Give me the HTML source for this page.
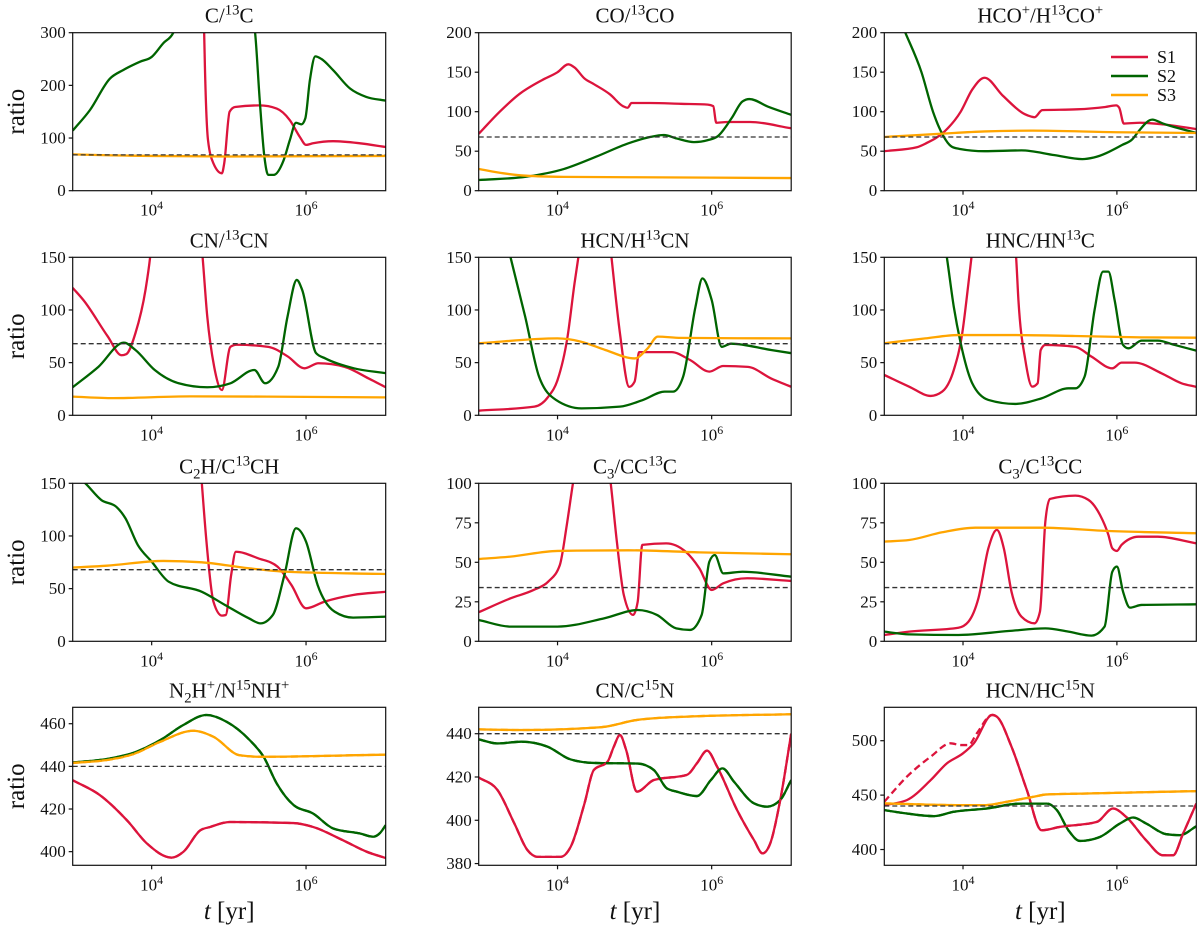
<!DOCTYPE html>
<html><head><meta charset="utf-8"><style>
html,body{margin:0;padding:0;background:#fff;}
svg text{font-family:"Liberation Serif",serif;fill:#111;}
</style></head><body>
<svg id="fig" width="1200" height="932" viewBox="0 0 1200 932" xmlns="http://www.w3.org/2000/svg">
<rect width="1200" height="932" fill="#fff"/>
</svg>
<script>
// ---- data: [log10(t/yr), ratio] ----
const c13_S1=[[2.977,1500],[4.5,900],[4.64,450],[4.68,300],[4.69,235],[4.73,96],[4.8,52],[4.91,33],[4.94,52],[5.01,150],[5.08,159],[5.4,162],[5.62,156],[5.79,134],[5.92,102],[6.0,87],[6.09,90],[6.35,94],[6.7,90],[7.032,83]];
const c13_S2=[[2.977,114],[3.2,153],[3.46,213],[3.63,229],[3.85,245],[4.0,254],[4.15,280],[4.28,300],[4.5,420],[4.9,450],[5.2,400],[5.34,300],[5.4,172],[5.46,65],[5.51,30],[5.58,30],[5.71,58],[5.79,96],[5.87,129],[5.94,126],[5.99,137],[6.05,210],[6.12,255],[6.2,250],[6.35,229],[6.57,194],[6.78,178],[7.032,171]];
const c13_S3=[[2.977,69],[3.5,67],[4.0,66],[5.0,65],[6.0,65.5],[7.032,66]];
const co_S1=[[2.977,72],[3.25,100],[3.5,122],[3.8,140],[4.0,150],[4.14,160],[4.22,156],[4.35,142],[4.47,135],[4.68,122],[4.85,107],[4.91,105],[4.96,111],[5.2,111],[5.6,110],[5.95,109],[6.02,107],[6.06,86],[6.2,87],[6.5,87],[7.032,79]];
const co_S2=[[2.977,13.5],[3.59,17.7],[4.08,27.4],[4.5,43],[4.92,60],[5.2,68],[5.38,70.5],[5.55,66],[5.77,61.5],[5.95,64],[6.08,69],[6.26,92],[6.4,113],[6.49,116],[6.74,106],[7.032,96]];
const co_S3=[[2.977,27.5],[3.3,22],[3.59,19],[4.08,17.5],[5,17],[6,16.5],[7.032,16]];
const hco_S1=[[2.977,50],[3.4,55],[3.52,60],[3.76,75],[3.97,100],[4.12,128],[4.28,143],[4.52,120],[4.8,97],[4.88,94],[4.93,93],[5.03,102],[5.48,103],[5.85,106],[5.99,108],[6.03,105],[6.09,85],[6.3,86],[6.6,84],[7.032,78]];
const hco_S2=[[2.977,260],[3.25,200],[3.46,150],[3.61,100],[3.74,70],[3.85,56],[3.95,53],[4.28,50],[4.76,51],[5.19,45],[5.55,40],[5.7,42],[6.07,58],[6.2,65],[6.28,75],[6.46,90],[6.6,85],[7.032,73]];
const hco_S3=[[2.977,68],[3.7,72],[4.28,75],[4.9,76],[6.0,74],[7.032,73]];
const cn_S1=[[2.977,121],[3.12,109],[3.43,75],[3.61,57],[3.67,58],[3.79,78],[3.92,119],[3.98,150],[4.1,260],[4.3,350],[4.5,260],[4.66,150],[4.72,94],[4.81,46],[4.91,24],[5.02,65],[5.1,67],[5.51,65],[5.76,56],[5.98,44.6],[6.16,49.4],[6.5,46],[6.81,35],[7.032,26.6]];
const cn_S2=[[2.977,26.6],[3.31,46],[3.64,69],[3.79,62],[4.04,43],[4.35,30.4],[4.72,26.6],[5.02,30.4],[5.33,43],[5.47,30.4],[5.64,46],[5.76,93.7],[5.88,128.5],[5.95,119],[6.13,59],[6.25,54],[6.62,44.6],[7.032,40]];
const cn_S3=[[2.977,17.7],[3.5,16.3],[4.5,18],[5.5,17.7],[7.032,17]];
const hcn_S1=[[2.977,4.4],[3.7,8.2],[3.88,17.7],[4.0,33.5],[4.13,74.7],[4.22,125],[4.27,150],[4.45,250],[4.6,220],[4.7,150],[4.81,77.8],[4.93,27],[5.0,32],[5.06,60],[5.48,60],[5.72,52.5],[5.97,41.5],[6.15,46.8],[6.47,46],[6.77,35],[7.032,27]];
const hcn_S2=[[2.977,260],[3.39,150],[3.58,93.7],[3.76,36.7],[3.98,14.6],[4.31,6.6],[4.81,8.2],[5.11,14.6],[5.39,22.5],[5.5,22.5],[5.63,36.7],[5.79,103],[5.88,130],[6.0,109.5],[6.13,65],[6.25,68],[6.77,62],[7.032,59]];
const hcn_S3=[[2.977,68.4],[4.0,73],[4.3,70],[4.62,62],[5.0,54],[5.17,63.6],[5.3,74.7],[5.6,73.5],[7.032,73]];
const hnc_S1=[[2.977,38.3],[3.3,27.2],[3.58,18.4],[3.73,22.5],[3.88,43],[3.99,77.8],[4.07,125],[4.11,150],[4.4,300],[4.69,150],[4.72,109.5],[4.81,52.5],[4.9,27.2],[4.97,30.4],[5.01,62],[5.07,66.8],[5.46,65],[5.67,55.7],[5.94,44.6],[6.06,50],[6.23,50],[6.58,39.9],[6.84,30.4],[7.032,27]];
const hnc_S2=[[2.977,400],[3.5,260],[3.79,150],[3.88,103],[3.97,68.4],[4.12,30.4],[4.33,14.6],[4.68,10.8],[5.02,16.1],[5.37,25.6],[5.46,25.6],[5.58,36.7],[5.71,100],[5.82,136.4],[5.89,136.4],[5.97,109.5],[6.08,66.8],[6.15,63.6],[6.32,70.9],[6.53,70.9],[6.75,66.8],[7.032,61.4]];
const hnc_S3=[[2.977,68.4],[3.51,73],[3.94,76.2],[4.59,76.2],[5.46,75.3],[6.32,74],[7.032,73.7]];
const c2h_S1=[[2.977,1000],[4.4,500],[4.6,200],[4.65,150],[4.71,94.6],[4.8,37.7],[4.91,24.4],[4.96,25],[5.03,63],[5.09,85],[5.38,78.8],[5.63,70.9],[5.81,53.5],[6.0,31.3],[6.24,37.7],[6.61,44],[7.032,47]];
const c2h_S2=[[2.977,160],[3.14,150],[3.35,134],[3.54,127.8],[3.66,116.8],[3.82,91.5],[4.0,75.6],[4.22,56.6],[4.65,47],[4.95,34.5],[5.26,21.8],[5.41,17],[5.57,25],[5.72,63],[5.87,107.3],[6.0,94.6],[6.15,53.5],[6.37,28.2],[6.61,22.5],[7.032,23.4]];
const c2h_S3=[[2.977,70],[3.42,71.8],[4.15,76.3],[4.65,75],[5.26,69.3],[5.75,66],[7.032,63.9]];
const cc13c_S1=[[2.977,18.4],[3.39,27.2],[3.69,32.5],[3.88,37.8],[4.03,48.3],[4.12,73.6],[4.2,100],[4.45,160],[4.69,100],[4.77,63],[4.86,29.3],[4.98,16.7],[5.04,25],[5.1,61],[5.41,62],[5.66,56.8],[5.84,46.2],[6.0,32.5],[6.15,36.7],[6.46,39.9],[7.032,38.2]];
const cc13c_S2=[[2.977,13.5],[3.39,9.3],[4.0,9.3],[4.61,14.6],[5.04,19.8],[5.29,16.7],[5.54,8.2],[5.72,7.2],[5.87,16.7],[5.97,50.4],[6.04,54.6],[6.15,43],[6.4,44],[7.032,40.9]];
const cc13c_S3=[[2.977,52.1],[3.39,53.6],[4.0,57.2],[4.92,57.6],[5.84,56.3],[7.032,55.1]];
const c13cc_S1=[[2.977,4],[3.3,6.1],[3.94,8.6],[4.07,12.4],[4.2,27.2],[4.33,58.9],[4.44,70.5],[4.53,58.9],[4.63,31.4],[4.76,15.6],[4.93,11.4],[5.0,18.8],[5.07,75.7],[5.13,90.1],[5.46,92.2],[5.63,89.5],[5.78,80],[5.89,67.3],[5.94,58.9],[6.0,57.2],[6.06,61],[6.28,66.2],[6.53,66.2],[7.032,62]];
const c13cc_S2=[[2.977,6.1],[3.3,4.4],[3.94,4],[4.59,6.5],[5.07,8.2],[5.37,6.1],[5.67,3.6],[5.84,9.3],[5.94,44],[6.0,47.3],[6.08,31.4],[6.17,21.3],[6.32,23],[7.032,23.4]];
const c13cc_S3=[[2.977,63.1],[3.3,64.1],[3.73,69],[4.16,71.9],[5.02,71.9],[5.89,69.8],[7.032,68.4]];
const n2h_S1=[[2.977,433.5],[3.33,426.5],[3.68,414.7],[3.94,403.8],[4.26,397.2],[4.41,399.9],[4.63,410],[4.76,411.6],[5.01,413.9],[5.84,413.4],[6.09,411.6],[6.48,405.3],[6.79,399.9],[7.032,397]];
const n2h_S2=[[2.977,441.8],[3.46,443.7],[3.76,446.3],[4.11,452.3],[4.41,459.4],[4.71,464.1],[4.97,460.9],[5.27,452.3],[5.45,444.5],[5.62,432],[5.84,421.8],[6.09,417.9],[6.35,410.9],[6.7,408.5],[6.87,407],[6.96,408.8],[7.032,412.4]];
const n2h_S3=[[2.977,441.6],[3.46,443.2],[3.76,445.7],[4.11,451.5],[4.54,456.7],[4.8,453.9],[5.14,445.2],[5.4,444.5],[7.032,445.5]];
const cn15_S1=[[2.977,419.8],[3.22,414],[3.44,398.5],[3.61,386.2],[3.74,383.1],[4.04,383.1],[4.17,387.7],[4.35,407.8],[4.47,423.2],[4.65,427.1],[4.73,434],[4.81,439.4],[4.89,432.5],[5.03,413.2],[5.25,418.6],[5.68,421],[5.81,426.4],[5.94,432.2],[6.07,424.8],[6.33,404.7],[6.55,390.8],[6.66,384.7],[6.76,389.3],[6.89,409.4],[7.032,440]];
const cn15_S2=[[2.977,437.4],[3.22,435.5],[3.53,436.3],[3.87,434],[4.17,428.1],[4.47,426.5],[5.04,426.2],[5.25,423.2],[5.42,414.7],[5.55,413.2],[5.81,411.2],[5.99,418.6],[6.14,424],[6.29,417.8],[6.55,407.8],[6.72,406.3],[6.89,409.4],[7.032,418.6]];
const cn15_S3=[[2.977,442],[3.53,441.7],[4.56,443],[5.04,446.4],[5.68,447.9],[7.032,449]];
const hcn15_S1=[[2.977,440.8],[3.27,445.4],[3.58,463.8],[3.79,479.2],[4.0,488.4],[4.14,497.6],[4.38,523.7],[4.44,522.1],[4.63,494.5],[4.83,454.6],[5.02,417.7],[5.26,420.8],[5.74,425.4],[5.95,437.7],[6.12,430],[6.38,408.5],[6.6,394.7],[6.73,394.7],[6.86,414.6],[7.032,442.2]];
const hcn15_S1dash=[[2.977,443.9],[3.27,466.9],[3.58,485.3],[3.84,497.6],[3.97,496],[4.07,496],[4.18,506.8],[4.38,523.7],[4.44,522.1],[4.63,494.5],[4.83,454.6],[5.02,417.7],[5.26,420.8],[5.74,425.4],[5.95,437.7],[6.12,430],[6.38,408.5],[6.6,394.7],[6.73,394.7],[6.86,414.6],[7.032,442.2]];
const hcn15_S2=[[2.977,436.2],[3.27,433.1],[3.62,430.7],[3.88,434.7],[4.31,437.7],[4.74,442.2],[5.09,442.2],[5.22,436.2],[5.37,417.7],[5.52,407.9],[5.78,411.6],[6.04,423.9],[6.21,429.4],[6.38,423.9],[6.64,414.1],[6.82,413.2],[7.032,421.4]];
const hcn15_S3=[[2.977,442.4],[4.0,440.8],[4.3,440.8],[4.57,443.9],[4.92,448.5],[5.09,450.6],[5.61,451.5],[7.032,453.7]];
const xTickExps=[4,6];
const seriesNames=["S1","S2","S3"];

const COLORS=["#dc143c","#006400","#ffa500"];
const NS="http://www.w3.org/2000/svg";
const svg=document.getElementById('fig');
const colL=[72.7,478.7,884.3], colW=[313,312.5,312];
const rowT=[32.7,257.3,483.3,707.3], rowH=158;
const LGMIN=2.977, LGMAX=7.032;

const panels=[
 {name:'c-13c',title:[['C/',''],['13','sup'],['C','']],ymin:0,ymax:300,yt:[0,100,200,300],ref:68,s:[c13_S1,c13_S2,c13_S3]},
 {name:'co-13co',title:[['CO/',''],['13','sup'],['CO','']],ymin:0,ymax:200,yt:[0,50,100,150,200],ref:68,s:[co_S1,co_S2,co_S3]},
 {name:'hco-h13co',title:[['HCO',''],['+','sup'],['/H',''],['13','sup'],['CO',''],['+','sup']],ymin:0,ymax:200,yt:[0,50,100,150,200],ref:68,s:[hco_S1,hco_S2,hco_S3],legend:true},
 {name:'cn-13cn',title:[['CN/',''],['13','sup'],['CN','']],ymin:0,ymax:150,yt:[0,50,100,150],ref:68,s:[cn_S1,cn_S2,cn_S3]},
 {name:'hcn-h13cn',title:[['HCN/H',''],['13','sup'],['CN','']],ymin:0,ymax:150,yt:[0,50,100,150],ref:68,s:[hcn_S1,hcn_S2,hcn_S3]},
 {name:'hnc-hn13c',title:[['HNC/HN',''],['13','sup'],['C','']],ymin:0,ymax:150,yt:[0,50,100,150],ref:68,s:[hnc_S1,hnc_S2,hnc_S3]},
 {name:'c2h-c13ch',title:[['C',''],['2','sub'],['H/C',''],['13','sup'],['CH','']],ymin:0,ymax:150,yt:[0,50,100,150],ref:68,s:[c2h_S1,c2h_S2,c2h_S3]},
 {name:'c3-cc13c',title:[['C',''],['3','sub'],['/CC',''],['13','sup'],['C','']],ymin:0,ymax:100,yt:[0,25,50,75,100],ref:34,s:[cc13c_S1,cc13c_S2,cc13c_S3]},
 {name:'c3-c13cc',title:[['C',''],['3','sub'],['/C',''],['13','sup'],['CC','']],ymin:0,ymax:100,yt:[0,25,50,75,100],ref:34,s:[c13cc_S1,c13cc_S2,c13cc_S3]},
 {name:'n2h-n15nh',title:[['N',''],['2','sub'],['H',''],['+','sup'],['/N',''],['15','sup'],['NH',''],['+','sup']],ymin:393.6,ymax:467.7,yt:[400,420,440,460],ref:440,s:[n2h_S1,n2h_S2,n2h_S3],dash:[n2h_S1,n2h_S2,n2h_S3]},
 {name:'cn-c15n',title:[['CN/C',''],['15','sup'],['N','']],ymin:379.2,ymax:452.2,yt:[380,400,420,440],ref:440,s:[cn15_S1,cn15_S2,cn15_S3],dash:[cn15_S1,cn15_S2,cn15_S3]},
 {name:'hcn-hc15n',title:[['HCN/HC',''],['15','sup'],['N','']],ymin:385.5,ymax:530.7,yt:[400,450,500],ref:440,s:[hcn15_S1,hcn15_S2,hcn15_S3],dash:[hcn15_S1dash,hcn15_S2,hcn15_S3]}
];

function el(tag,attrs,parent){const e=document.createElementNS(NS,tag);for(const k in attrs)e.setAttribute(k,attrs[k]);(parent||svg).appendChild(e);return e;}
function addRich(t,parts,size){
  let shifted=0;
  parts.forEach(([s,type])=>{
    const ts=document.createElementNS(NS,'tspan');
    let dy=0;
    if(type==='sup'){dy=-size*0.38-shifted;shifted=-size*0.38;ts.setAttribute('font-size',size*0.7);}
    else if(type==='sub'){dy=size*0.25-shifted;shifted=size*0.25;ts.setAttribute('font-size',size*0.7);}
    else {dy=-shifted;shifted=0;}
    if(dy)ts.setAttribute('dy',dy);
    ts.textContent=s;t.appendChild(ts);
  });
}
function monoPath(p){
  const n=p.length;if(n<2)return '';
  const s=[],h=[],t=new Array(n);
  for(let i=0;i<n-1;i++){h[i]=p[i+1][0]-p[i][0];s[i]=(p[i+1][1]-p[i][1])/h[i];}
  t[0]=s[0];t[n-1]=s[n-2];
  for(let i=1;i<n-1;i++){
    const pp=(s[i-1]*h[i]+s[i]*h[i-1])/(h[i-1]+h[i]);
    t[i]=(Math.sign(s[i-1])+Math.sign(s[i]))*Math.min(Math.abs(s[i-1]),Math.abs(s[i]),0.5*Math.abs(pp))||0;
  }
  let d='M'+p[0][0].toFixed(2)+','+p[0][1].toFixed(2);
  for(let i=0;i<n-1;i++){
    const k=h[i]/3;
    d+='C'+(p[i][0]+k).toFixed(2)+','+(p[i][1]+t[i]*k).toFixed(2)+' '+(p[i+1][0]-k).toFixed(2)+','+(p[i+1][1]-t[i+1]*k).toFixed(2)+' '+p[i+1][0].toFixed(2)+','+p[i+1][1].toFixed(2);
  }
  return d;
}

panels.forEach((P,idx)=>{
  const col=idx%3,row=Math.floor(idx/3);
  const L=colL[col],W=colW[col],T=rowT[row],H=rowH;
  const xs=lg=>L+(lg-LGMIN)/(LGMAX-LGMIN)*W;
  const ys=v=>T+H-(v-P.ymin)/(P.ymax-P.ymin)*H;
  const g=el('g',{});
  
  
  const cp=el('clipPath',{id:'clip'+idx},g);
  el('rect',{x:L,y:T,width:W,height:H},cp);
  // title
  const tt=el('text',{x:L+W/2,y:T-10,'text-anchor':'middle','font-size':21},g);
  
  
  addRich(tt,P.title,21);
  // series
  const sg=el('g',{'clip-path':'url(#clip'+idx+')'},g);
  P.s.forEach((arr,si)=>{
    const pts=arr.map(d=>[xs(d[0]),ys(d[1])]);
    const path=el('path',{d:monoPath(pts),fill:'none',stroke:COLORS[si],'stroke-width':2.3,'stroke-linejoin':'round'},sg);
    
    
  });
  if(P.dash){
    P.dash.forEach((arr,si)=>{
      const pts=arr.map(d=>[xs(d[0]),ys(d[1])]);
      const path=el('path',{d:monoPath(pts),fill:'none',stroke:COLORS[si],'stroke-width':2.3,'stroke-dasharray':'7,4'},sg);
      
      
    });
  }
  const rl=el('line',{x1:L,x2:L+W,y1:ys(P.ref),y2:ys(P.ref),stroke:'#333','stroke-width':1.3,'stroke-dasharray':'5,3'},sg);
  
  
  // frame
  const fr=el('rect',{x:L,y:T,width:W,height:H,fill:'none',stroke:'#111','stroke-width':1.2},g);
  
  
  // y ticks
  P.yt.forEach(v=>{
    const y=ys(v);
    el('line',{x1:L-4,x2:L,y1:y,y2:y,stroke:'#111','stroke-width':1.2},g);
    const lab=el('text',{x:L-7,y:y+5.5,'text-anchor':'end','font-size':17},g);
    
    
    lab.textContent=String(v);
  });
  // x ticks
  xTickExps.forEach(e=>{
    const x=xs(e);
    el('line',{x1:x,x2:x,y1:T+H,y2:T+H+4,stroke:'#111','stroke-width':1.2},g);
    const lab=el('text',{x:x,y:T+H+25,'text-anchor':'middle','font-size':17},g);
    
    
    addRich(lab,[['10',''],[String(e),'sup']],17);
  });
  if(col===0){
    const yl=el('text',{x:0,y:0,'text-anchor':'middle','font-size':25,transform:'translate(24,'+(T+H/2)+') rotate(-90)'},g);
    
    
    yl.textContent='ratio';
  }
  if(row===3){
    const xl=el('text',{x:L+W/2,y:919,'text-anchor':'middle','font-size':25},g);
    
    
    const a=document.createElementNS(NS,'tspan');a.setAttribute('font-style','italic');a.textContent='t';xl.appendChild(a);
    const b=document.createElementNS(NS,'tspan');b.textContent=' [yr]';xl.appendChild(b);
  }
  if(P.legend){
    const lg=el('g',{},g);
    
    
    const ly=[57,76,95];
    seriesNames.forEach((nm,i)=>{
      const ent=el('g',{},lg);
      
      
      el('line',{x1:1111,x2:1148,y1:ly[i],y2:ly[i],stroke:COLORS[i],'stroke-width':2.5},ent);
      const tx=el('text',{x:1157,y:ly[i]+6,'font-size':18},ent);
      tx.textContent=nm;
    });
  }
});
</script>
</body></html>
